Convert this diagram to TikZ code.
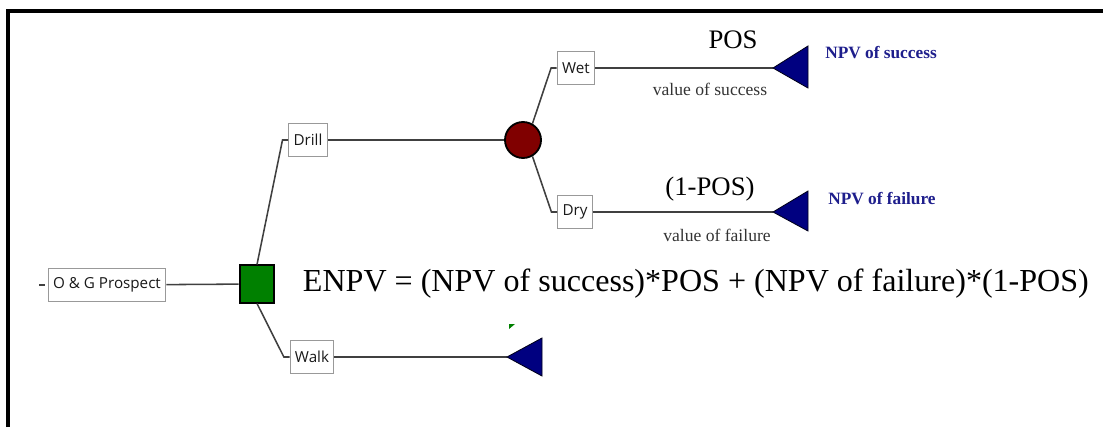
\documentclass[tikz,border=0pt]{standalone}
\usepackage{fontspec}
\setmainfont{Liberation Serif}
\newfontfamily\labelfont{Open Sans}
\usetikzlibrary{shapes}

\definecolor{decgreen}{RGB}{0,128,0}
\definecolor{chancered}{RGB}{128,0,0}
\definecolor{endblue}{RGB}{0,0,128}
\definecolor{npvblue}{RGB}{30,30,140}

\begin{document}
\begin{tikzpicture}[x=0.025cm, y=-0.025cm,
  choice/.style={draw=black!40, line width=0.8pt, fill=white, inner xsep=3.5pt, inner ysep=0pt, minimum height=0.84cm, font=\labelfont\fontsize{10.8}{12}\selectfont, text=black!90},
  branch/.style={draw=black!75, line width=1.1pt},
  decision/.style={draw=black, line width=1.3pt, fill=decgreen, minimum width=0.87cm, minimum height=0.93cm, inner sep=0pt},
  chance/.style={draw=black, line width=1.3pt, fill=chancered, circle, minimum size=0.9cm, inner sep=0pt},
  leaf/.style={fill=endblue, draw=black!80!endblue, line width=0.6pt},
  prob/.style={font=\fontsize{19}{21}\selectfont},
  payoff/.style={font=\fontsize{12.5}{14}\selectfont, text=black!80},
  npv/.style={font=\bfseries\fontsize{12.3}{14}\selectfont, text=npvblue}]

\useasboundingbox (0,0) rectangle (1103,427);
\draw[line width=2.4pt] (8,427) -- (8,11) -- (1103,11);

\node[choice] (og) at (107,285) {O \& G Prospect};
\node[decision] (dec) at (257,284) {};
\node[choice] (drill) at (308,140) {Drill};
\node[choice] (walk) at (312,357) {Walk};
\node[chance] (ch) at (523,140) {};
\node[choice] (wet) at (576,68) {Wet};
\node[choice] (dry) at (575,212) {Dry};
\coordinate (t1) at (773,68);
\coordinate (t2) at (773,212);
\coordinate (t3) at (507,357);
\coordinate (stub) at (39,285);

\draw[branch] (stub) -- ([xshift=-2pt]og.west);
\draw[branch] (og) -- (dec);
\draw[branch] (dec.north) -- ([xshift=-4pt]drill.west) -- (drill.west);
\draw[branch] (dec.south) -- ([xshift=-4pt]walk.west) -- (walk.west);
\draw[branch] (drill) -- (ch);
\draw[branch] (ch.60) -- ([xshift=-4pt]wet.west) -- (wet.west);
\draw[branch] (ch.-60) -- ([xshift=-4pt]dry.west) -- (dry.west);
\draw[branch] (wet) -- (t1);
\draw[branch] (dry) -- (t2);
\draw[branch] (walk) -- (t3);

\filldraw[leaf] (t1) -- ++(35,-22) -- ++(0,42) -- cycle;
\filldraw[leaf] (t2) -- ++(35,-21) -- ++(0,40) -- cycle;
\filldraw[leaf] (t3) -- ++(35,-19) -- ++(0,38) -- cycle;
\fill[decgreen] (509,324) -- ++(6,0) -- ++(-6,5) -- cycle;

\node[prob] (pos) at (733,40) {POS};
\node[prob] (npos) at (710,189) {(1-POS)};
\node[payoff] (vs) at (710,89) {value of success};
\node[payoff] (vf) at (717,235) {value of failure};
\node[npv] (ns) at (881,53) {NPV of success};
\node[npv] (nf) at (882,199) {NPV of failure};

\node[anchor=west, font=\fontsize{22.8}{26}\selectfont] (enpv) at (298,284) {ENPV = (NPV of success)*POS + (NPV of failure)*(1-POS)};
\end{tikzpicture}
\end{document}
